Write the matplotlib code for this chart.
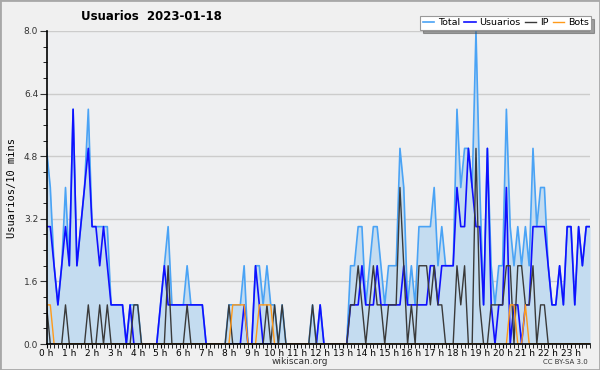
import numpy as np
import matplotlib
matplotlib.use("Agg")
import matplotlib.pyplot as plt
from matplotlib.patches import Rectangle
from matplotlib.ticker import MultipleLocator

# valores cada 10 minutos (144 puntos), fila = 1 hora
total = [5, 4, 2, 1, 2, 4,  2, 6, 2, 3, 4, 6,  3, 3, 3, 3, 3, 1,  1, 1, 1, 0, 1, 1,
         1, 0, 0, 0, 0, 0,  1, 2, 3, 1, 1, 1,  1, 2, 1, 1, 1, 1,  0, 0, 0, 0, 0, 0,
         1, 1, 1, 1, 2, 0,  0, 2, 2, 1, 2, 1,  1, 0, 1, 0, 0, 0,  0, 0, 0, 0, 1, 0,
         1, 0, 0, 0, 0, 0,  0, 0, 2, 2, 3, 3,  1, 2, 3, 3, 2, 1,  2, 2, 2, 5, 4, 1,
         2, 1, 3, 3, 3, 3,  4, 2, 3, 2, 2, 2,  6, 4, 5, 5, 4, 8,  4, 1, 5, 2, 1, 2,
         2, 6, 3, 2, 3, 2,  3, 2, 5, 3, 4, 4,  2, 1, 1, 2, 1, 3,  3, 1, 3, 2, 3, 3]
usuarios = [3, 3, 2, 1, 2, 3,  2, 6, 2, 3, 4, 5,  3, 3, 2, 3, 2, 1,  1, 1, 1, 0, 1, 0,
            0, 0, 0, 0, 0, 0,  1, 2, 1, 1, 1, 1,  1, 1, 1, 1, 1, 1,  0, 0, 0, 0, 0, 0,
            0, 0, 0, 0, 1, 0,  0, 2, 1, 0, 0, 0,  0, 0, 0, 0, 0, 0,  0, 0, 0, 0, 0, 0,
            1, 0, 0, 0, 0, 0,  0, 0, 1, 1, 1, 2,  1, 1, 1, 2, 1, 1,  1, 1, 1, 1, 2, 1,
            1, 1, 1, 1, 1, 2,  2, 1, 2, 2, 2, 2,  4, 3, 3, 5, 4, 3,  3, 1, 5, 1, 0, 1,
            1, 4, 0, 1, 1, 0,  1, 1, 3, 3, 3, 3,  2, 1, 1, 2, 1, 3,  3, 1, 3, 2, 3, 3]
ip = [1, 0, 0, 0, 0, 1,  0, 0, 0, 0, 0, 1,  0, 0, 1, 0, 1, 0,  0, 0, 0, 0, 0, 1,
      1, 0, 0, 0, 0, 0,  0, 0, 2, 0, 0, 0,  0, 1, 0, 0, 0, 0,  0, 0, 0, 0, 0, 0,
      1, 0, 0, 0, 0, 0,  0, 0, 0, 0, 1, 0,  1, 0, 1, 0, 0, 0,  0, 0, 0, 0, 1, 0,
      0, 0, 0, 0, 0, 0,  0, 0, 1, 1, 2, 1,  0, 1, 2, 1, 1, 0,  1, 1, 1, 4, 2, 0,
      1, 0, 2, 2, 2, 1,  2, 1, 1, 0, 0, 0,  2, 1, 2, 0, 0, 5,  1, 0, 0, 1, 1, 1,
      1, 2, 2, 0, 2, 2,  1, 1, 2, 0, 1, 1,  0, 0, 0, 0, 0, 0,  0, 0, 0, 0, 0, 0]
bots = [1, 1, 0, 0, 0, 0,  0, 0, 0, 0, 0, 0,  0, 0, 0, 0, 0, 0,  0, 0, 0, 0, 0, 0,
        0, 0, 0, 0, 0, 0,  0, 0, 0, 0, 0, 0,  0, 0, 0, 0, 0, 0,  0, 0, 0, 0, 0, 0,
        0, 1, 1, 1, 1, 0,  0, 0, 1, 1, 1, 1,  0, 0, 0, 0, 0, 0,  0, 0, 0, 0, 0, 0,
        0, 0, 0, 0, 0, 0,  0, 0, 0, 0, 0, 0,  0, 0, 0, 0, 0, 0,  0, 0, 0, 0, 0, 0,
        0, 0, 0, 0, 0, 0,  0, 0, 0, 0, 0, 0,  0, 0, 0, 0, 0, 0,  0, 0, 0, 0, 0, 0,
        0, 0, 1, 1, 0, 0,  1, 0, 0, 0, 0, 0,  0, 0, 0, 0, 0, 0,  0, 0, 0, 0, 0, 0]
horas = [f"{h} h" for h in range(24)]

x = np.arange(len(total)) / 6.0

fig = plt.figure(figsize=(6, 3.7), dpi=100, facecolor="#f0f0f0")
fig.patches.append(Rectangle((0, 0), 1, 1, transform=fig.transFigure, fill=False,
                             edgecolor="#a8a8a8", linewidth=2))
ax = fig.add_axes([46.5 / 600, 26 / 370, 543.5 / 600, 313 / 370])
ax.set_facecolor("#eeeff1")

ax.fill_between(x, total, color="#c4dcf0", linewidth=0)
ax.plot(x, total, color="#4aa3f5", lw=1.2, label="Total")
ax.plot(x, usuarios, color="#1010ff", lw=1.2, label="Usuarios")
ax.plot(x, ip, color="#3a3a3a", lw=1.0, label="IP")
ax.plot(x, bots, color="#ff9a1a", lw=1.0, label="Bots")

ax.set_xlim(0, x[-1])
ax.set_ylim(0, 8)
ax.yaxis.set_major_locator(MultipleLocator(1.6))
ax.yaxis.set_minor_locator(MultipleLocator(0.4))
ax.yaxis.set_major_formatter(matplotlib.ticker.FormatStrFormatter("%.1f"))
ax.set_xticks(range(24))
ax.set_xticklabels(horas)
ax.xaxis.set_minor_locator(MultipleLocator(1 / 6))
ax.tick_params(axis="y", which="major", length=5, labelsize=6.5, pad=1, colors="#333333")
ax.tick_params(axis="y", which="minor", length=3)
ax.tick_params(axis="x", which="major", length=3, labelsize=6.5, pad=0.5)
ax.tick_params(axis="x", which="minor", length=3)
ax.grid(axis="y", color="#cccccc", lw=1)
ax.set_axisbelow(True)
for s in ["top", "right"]:
    ax.spines[s].set_visible(False)
ax.spines["left"].set_linewidth(1.2)
ax.spines["bottom"].set_linewidth(1.2)

ax.set_ylabel("Usuarios/10 mins", family="DejaVu Sans Mono", fontsize=7.5, labelpad=5)
fig.text(151 / 600, 1 - 17 / 370, "Usuarios  2023-01-18", ha="center", va="center",
         fontsize=8.5, fontweight="bold")
fig.text(300 / 600, 1 - 362 / 370, "wikiscan.org", ha="center", va="center", fontsize=6.5,
         color="#333333")
fig.text(588 / 600, 1 - 362 / 370, "CC BY-SA 3.0", ha="right", va="center", fontsize=5,
         color="#333333")

leg = fig.legend(loc="upper right", bbox_to_anchor=(591 / 600, 1 - 16 / 370), ncol=4,
                 fontsize=6.8, frameon=True, fancybox=False, shadow=True, handlelength=1.2,
                 handletextpad=0.4, columnspacing=0.45, borderpad=0.25, borderaxespad=0)
leg.get_frame().set_edgecolor("#999999")
leg.get_frame().set_linewidth(0.8)

fig.savefig("out.png", dpi=100, facecolor=fig.get_facecolor())
